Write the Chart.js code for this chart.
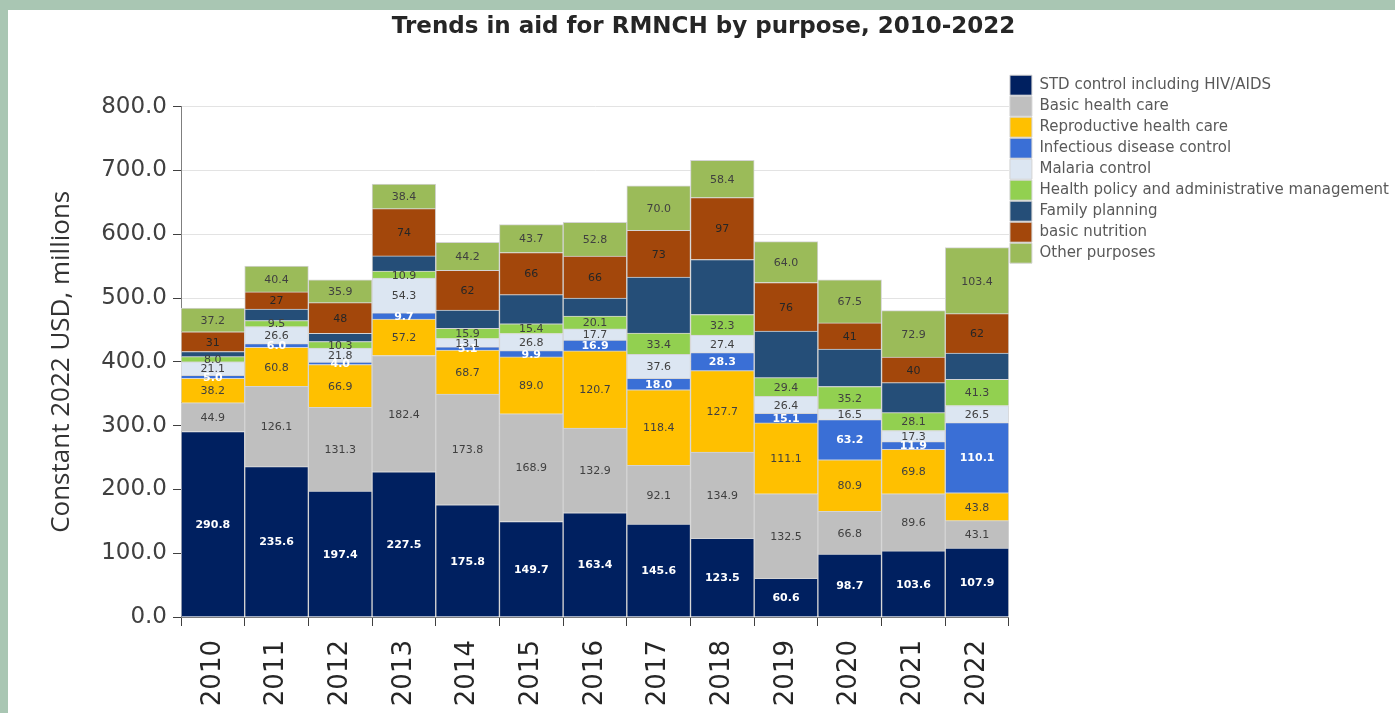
<!DOCTYPE html>
<html>
<head>
<meta charset="utf-8">
<title>Trends in aid for RMNCH by purpose, 2010-2022</title>
<script src="https://cdn.jsdelivr.net/npm/chart.js@4.4.1/dist/chart.umd.min.js"></script>
<style>
  html, body { margin: 0; padding: 0; }
  body { background: #a9c6b3; width: 1395px; height: 713px; position: relative; overflow: hidden; }
  #panel { position: absolute; left: 8px; top: 10px; right: 0; bottom: 0; background: #ffffff; }
  #chart { position: absolute; left: 0; top: 0; }
</style>
</head>
<body>
<div id="panel"></div>
<canvas id="chart" width="1395" height="713"></canvas>
<script>
const years = ['2010', '2011', '2012', '2013', '2014', '2015', '2016', '2017', '2018', '2019', '2020', '2021', '2022'];

const stdControl    = [290.8, 235.6, 197.4, 227.5, 175.8, 149.7, 163.4, 145.6, 123.5, 60.6, 98.7, 103.6, 107.9];
const basicHealth   = [44.9, 126.1, 131.3, 182.4, 173.8, 168.9, 132.9, 92.1, 134.9, 132.5, 66.8, 89.6, 43.1];
const reproductive  = [38.2, 60.8, 66.9, 57.2, 68.7, 89.0, 120.7, 118.4, 127.7, 111.1, 80.9, 69.8, 43.8];
const infectious    = [5.0, 6.0, 4.0, 9.7, 5.1, 9.9, 16.9, 18.0, 28.3, 15.1, 63.2, 11.9, 110.1];
const malaria       = [21.1, 26.6, 21.8, 54.3, 13.1, 26.8, 17.7, 37.6, 27.4, 26.4, 16.5, 17.3, 26.5];
const healthPolicy  = [8.0, 9.5, 10.3, 10.9, 15.9, 15.4, 20.1, 33.4, 32.3, 29.4, 35.2, 28.1, 41.3];
const familyPlan    = [8.0, 18.0, 13.0, 24.0, 28.8, 45.5, 28.0, 87.8, 86.3, 73.2, 58.6, 47.0, 40.8];
const nutrition     = [31, 27, 48, 74, 62, 66, 66, 73, 97, 76, 41, 40, 62];
const otherPurposes = [37.2, 40.4, 35.9, 38.4, 44.2, 43.7, 52.8, 70.0, 58.4, 64.0, 67.5, 72.9, 103.4];

const yTicks = [0, 100, 200, 300, 400, 500, 600, 700, 800];

// label style per series: text colour, decimals (null = no labels)
function makeSet(label, data, color, labelColor, decimals) {
    return {
        label: label,
        data: data,
        backgroundColor: color,
        borderColor: '#d4d4d4',
        borderWidth: 1,
        labelColor: labelColor,
        decimals: decimals,
    };
}

const datasets = [
    makeSet('STD control including HIV/AIDS', stdControl, '#002060', '#ffffff', 1),
    makeSet('Basic health care', basicHealth, '#bfbfbf', '#404040', 1),
    makeSet('Reproductive health care', reproductive, '#ffc000', '#404040', 1),
    makeSet('Infectious disease control', infectious, '#3a6fd6', '#ffffff', 1),
    makeSet('Malaria control', malaria, '#dce6f2', '#404040', 1),
    makeSet('Health policy and administrative management', healthPolicy, '#92d050', '#404040', 1),
    makeSet('Family planning', familyPlan, '#254e78', '#ffffff', null),
    makeSet('basic nutrition', nutrition, '#a3470b', '#262626', 0),
    makeSet('Other purposes', otherPurposes, '#9bbb59', '#404040', 1),
];

// writes each segment's value in the middle of the segment
const segmentLabels = {
    id: 'segmentLabels',
    afterDatasetsDraw(chart) {
        const ctx = chart.ctx;
        ctx.save();
        ctx.textAlign = 'center';
        ctx.textBaseline = 'middle';
        chart.data.datasets.forEach((ds, i) => {
            if (ds.decimals === null) return;
            const meta = chart.getDatasetMeta(i);
            const white = ds.labelColor === '#ffffff';
            ctx.font = (white ? 'bold 11px' : '11px') + ' "DejaVu Sans"';
            ctx.fillStyle = ds.labelColor;
            meta.data.forEach((bar, j) => {
                const p = bar.getProps(['x', 'y', 'base'], true);
                ctx.fillText(ds.data[j].toFixed(ds.decimals), p.x, (p.y + p.base) / 2 + 1);
            });
        });
        ctx.restore();
    }
};

new Chart(document.getElementById('chart'), {
    type: 'bar',
    data: { labels: years, datasets: datasets },
    plugins: [segmentLabels],
    options: {
        responsive: false,
        animation: false,
        devicePixelRatio: 1,
        layout: { padding: { left: 8, top: 10, right: -4, bottom: 0 } },
        datasets: { bar: { categoryPercentage: 1, barPercentage: 1 } },
        plugins: {
            title: {
                display: true,
                text: 'Trends in aid for RMNCH by purpose, 2010-2022',
                color: '#262626',
                font: { family: '"DejaVu Sans"', size: 23, weight: 'bold' },
                padding: { top: 3, bottom: 66 },
            },
            legend: {
                position: 'right',
                align: 'start',
                maxWidth: 420,
                title: { display: true, text: '', font: { size: 1 }, padding: { top: 63, bottom: 0 } },
                labels: {
                    boxWidth: 22,
                    boxHeight: 20,
                    padding: 1,
                    color: '#595959',
                    font: { family: '"DejaVu Sans"', size: 15 },
                },
            },
            tooltip: { enabled: false },
        },
        scales: {
            x: {
                stacked: true,
                grid: { display: true, drawOnChartArea: false, drawTicks: true, tickLength: 9, color: '#404040', offset: true },
                border: { color: '#7f7f7f', width: 1 },
                ticks: {
                    minRotation: 90,
                    maxRotation: 90,
                    padding: 14,
                    color: '#262626',
                    font: { family: '"DejaVu Sans"', size: 26 },
                },
                afterFit(scale) { scale.height = 96; },
            },
            y: {
                stacked: true,
                min: 0,
                max: 800,
                afterBuildTicks(scale) { scale.ticks = yTicks.map(v => ({ value: v })); },
                grid: { color: '#e3e3e3', tickColor: '#404040', tickLength: 8 },
                border: { color: '#7f7f7f', width: 1 },
                ticks: {
                    padding: 6,
                    color: '#404040',
                    font: { family: '"DejaVu Sans"', size: 23 },
                    callback: v => Number(v).toFixed(1),
                },
                title: {
                    display: true,
                    text: 'Constant 2022 USD, millions',
                    color: '#333333',
                    font: { family: '"Open Sans"', size: 26 },
                    padding: { top: 38, bottom: 0 },
                },
                afterFit(scale) { scale.width = 173; },
            },
        },
    },
});
</script>
</body>
</html>
